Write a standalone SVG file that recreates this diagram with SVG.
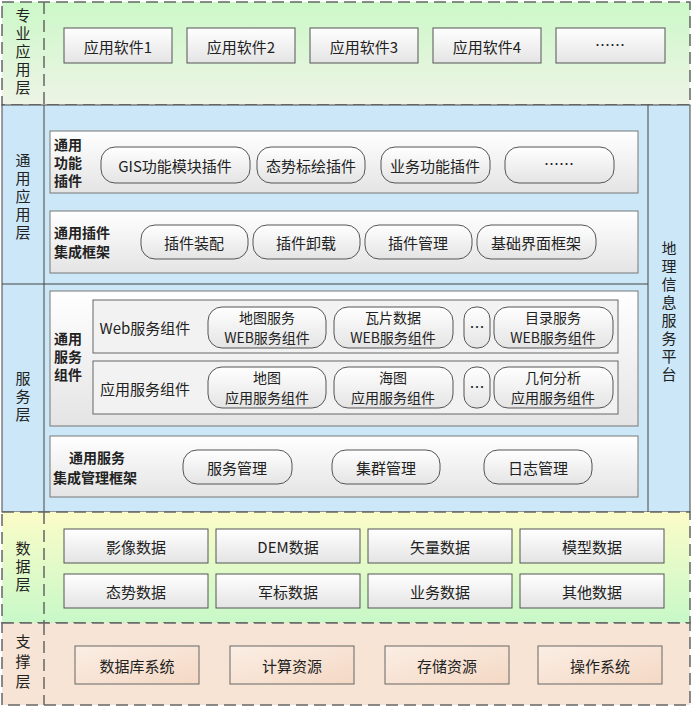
<svg xmlns="http://www.w3.org/2000/svg" width="692" height="707" viewBox="0 0 692 707">
<defs>
<linearGradient id="gTop" x1="0" y1="0" x2="0" y2="1"><stop offset="0" stop-color="#ccf8c8"/><stop offset="1" stop-color="#eef4e6"/></linearGradient>
<linearGradient id="gData" x1="0" y1="0" x2="0" y2="1"><stop offset="0" stop-color="#fbfcc8"/><stop offset="1" stop-color="#c8f8c8"/></linearGradient>
<linearGradient id="gSup" x1="0" y1="0" x2="1" y2="1"><stop offset="0" stop-color="#f6e4d6"/><stop offset="1" stop-color="#f8e4d4"/></linearGradient>
<linearGradient id="gBtn" x1="0" y1="0" x2="0" y2="1"><stop offset="0" stop-color="#ffffff"/><stop offset="1" stop-color="#e4e4e4"/></linearGradient>
<linearGradient id="gPeach" x1="0" y1="0" x2="1" y2="1"><stop offset="0" stop-color="#fbeee4"/><stop offset="1" stop-color="#f4d8c4"/></linearGradient>
</defs>
<style>
text{font-family:"Noto Sans CJK SC","Liberation Sans",sans-serif;font-size:15px;fill:#222;text-anchor:middle;dominant-baseline:central}
.v{writing-mode:vertical-rl;letter-spacing:3px;dominant-baseline:auto}
.b{font-weight:bold;text-anchor:start;font-size:14px}
.s{font-size:14px}
.dash{stroke:#666;stroke-width:1.5;stroke-dasharray:12,6;fill:none}
.btn{fill:url(#gBtn);stroke:#555;stroke-width:1}
.pill{fill:url(#gBtn);stroke:#555;stroke-width:1}
.panel{fill:url(#gBtn);stroke:#777;stroke-width:1}
.row{fill:#f2f2f2;stroke:#666;stroke-width:1}
.pch{fill:url(#gPeach);stroke:#666;stroke-width:1}
.ln{stroke:#444;stroke-width:1}
</style>
<g id="layer-app">
<rect x="2" y="2" width="688" height="103" fill="url(#gTop)"/>
<rect x="2" y="2" width="688" height="103" class="dash"/>
<line x1="44" y1="2" x2="44" y2="105" class="dash"/>
<text x="23" y="53" class="v">专业应用层</text>
<rect x="64" y="28" width="108" height="35" class="btn"/><text x="118" y="46">应用软件1</text>
<rect x="187" y="28" width="108" height="35" class="btn"/><text x="241" y="46">应用软件2</text>
<rect x="310" y="28" width="108" height="35" class="btn"/><text x="364" y="46">应用软件3</text>
<rect x="433" y="28" width="108" height="35" class="btn"/><text x="487" y="46">应用软件4</text>
<rect x="556" y="28" width="109" height="35" class="btn"/><text x="610" y="44">……</text>
</g>
<g id="layer-blue">
<rect x="2" y="105" width="688" height="407" fill="#cce8f8" stroke="#444"/>
<line x1="44" y1="105" x2="44" y2="512" class="ln"/>
<line x1="648" y1="105" x2="648" y2="512" class="ln"/>
<line x1="2" y1="284" x2="648" y2="284" class="ln"/>
<text x="23" y="198" class="v">通用应用层</text>
<text x="23" y="398" class="v">服务层</text>
<text x="669" y="313" class="v">地理信息服务平台</text>
</g>
<g id="plugins">
<rect x="50" y="131" width="588" height="62" class="panel"/>
<text class="b"><tspan x="54" y="144">通用</tspan><tspan x="54" y="162">功能</tspan><tspan x="54" y="180">插件</tspan></text>
<rect x="101" y="147" width="149" height="36" rx="14" class="pill"/><text x="175" y="165">GIS功能模块插件</text>
<rect x="257" y="147" width="108" height="36" rx="14" class="pill"/><text x="311" y="165">态势标绘插件</text>
<rect x="381" y="147" width="109" height="36" rx="14" class="pill"/><text x="435" y="165">业务功能插件</text>
<rect x="505" y="147" width="109" height="36" rx="14" class="pill"/><text x="559" y="163">……</text>
</g>
<g id="plugin-frame">
<rect x="50" y="211" width="588" height="62" class="panel"/>
<text class="b"><tspan x="54" y="232">通用插件</tspan><tspan x="54" y="251">集成框架</tspan></text>
<rect x="141" y="225" width="107" height="34" rx="14" class="pill"/><text x="194" y="242">插件装配</text>
<rect x="253" y="225" width="107" height="34" rx="14" class="pill"/><text x="306" y="242">插件卸载</text>
<rect x="365" y="225" width="107" height="34" rx="14" class="pill"/><text x="418" y="242">插件管理</text>
<rect x="477" y="225" width="119" height="34" rx="14" class="pill"/><text x="536" y="242">基础界面框架</text>
</g>
<g id="service-components">
<rect x="50" y="291" width="588" height="135" class="panel"/>
<text class="b"><tspan x="54" y="338">通用</tspan><tspan x="54" y="356">服务</tspan><tspan x="54" y="374">组件</tspan></text>
<rect x="93" y="300" width="525" height="53" class="row"/>
<text x="145" y="327">Web服务组件</text>
<rect x="208" y="307" width="118" height="41" rx="14" class="pill"/><text class="s"><tspan x="267" y="317">地图服务</tspan><tspan x="267" y="337">WEB服务组件</tspan></text>
<rect x="334" y="307" width="119" height="41" rx="14" class="pill"/><text class="s"><tspan x="393" y="317">瓦片数据</tspan><tspan x="393" y="337">WEB服务组件</tspan></text>
<rect x="464" y="307" width="26" height="41" rx="12" class="pill"/><text x="477" y="326">…</text>
<rect x="494" y="307" width="119" height="41" rx="14" class="pill"/><text class="s"><tspan x="553" y="317">目录服务</tspan><tspan x="553" y="337">WEB服务组件</tspan></text>
<rect x="93" y="361" width="525" height="53" class="row"/>
<text x="145" y="388">应用服务组件</text>
<rect x="208" y="367" width="118" height="41" rx="14" class="pill"/><text class="s"><tspan x="267" y="377">地图</tspan><tspan x="267" y="397">应用服务组件</tspan></text>
<rect x="334" y="367" width="119" height="41" rx="14" class="pill"/><text class="s"><tspan x="393" y="377">海图</tspan><tspan x="393" y="397">应用服务组件</tspan></text>
<rect x="464" y="367" width="26" height="41" rx="12" class="pill"/><text x="477" y="386">…</text>
<rect x="494" y="367" width="119" height="41" rx="14" class="pill"/><text class="s"><tspan x="553" y="377">几何分析</tspan><tspan x="553" y="397">应用服务组件</tspan></text>
</g>
<g id="service-frame">
<rect x="50" y="436" width="588" height="61" class="panel"/>
<text class="b"><tspan x="69" y="457">通用服务</tspan><tspan x="53" y="477">集成管理框架</tspan></text>
<rect x="183" y="450" width="109" height="34" rx="14" class="pill"/><text x="237" y="467">服务管理</text>
<rect x="332" y="450" width="108" height="34" rx="14" class="pill"/><text x="386" y="467">集群管理</text>
<rect x="484" y="450" width="108" height="34" rx="14" class="pill"/><text x="538" y="467">日志管理</text>
</g>
<g id="layer-data">
<rect x="2" y="512" width="688" height="111" fill="url(#gData)"/>
<rect x="2" y="512" width="688" height="111" class="dash"/>
<line x1="44" y1="512" x2="44" y2="623" class="dash"/>
<text x="23" y="568" class="v">数据层</text>
<rect x="64" y="529" width="144" height="34" class="btn"/><text x="136" y="546">影像数据</text>
<rect x="216" y="529" width="144" height="34" class="btn"/><text x="288" y="546">DEM数据</text>
<rect x="368" y="529" width="144" height="34" class="btn"/><text x="440" y="546">矢量数据</text>
<rect x="520" y="529" width="144" height="34" class="btn"/><text x="592" y="546">模型数据</text>
<rect x="64" y="574" width="144" height="34" class="btn"/><text x="136" y="591">态势数据</text>
<rect x="216" y="574" width="144" height="34" class="btn"/><text x="288" y="591">军标数据</text>
<rect x="368" y="574" width="144" height="34" class="btn"/><text x="440" y="591">业务数据</text>
<rect x="520" y="574" width="144" height="34" class="btn"/><text x="592" y="591">其他数据</text>
</g>
<g id="layer-support">
<rect x="2" y="623" width="688" height="82" fill="url(#gSup)"/>
<rect x="2" y="623" width="688" height="82" class="dash"/>
<line x1="44" y1="623" x2="44" y2="705" class="dash"/>
<text x="23" y="664" class="v" style="letter-spacing:5px">支撑层</text>
<rect x="75" y="646" width="124" height="38" class="pch"/><text x="137" y="665">数据库系统</text>
<rect x="230" y="646" width="124" height="38" class="pch"/><text x="292" y="665">计算资源</text>
<rect x="385" y="646" width="124" height="38" class="pch"/><text x="447" y="665">存储资源</text>
<rect x="538" y="646" width="124" height="38" class="pch"/><text x="600" y="665">操作系统</text>
</g>
<g id="connectors"/>
</svg>
